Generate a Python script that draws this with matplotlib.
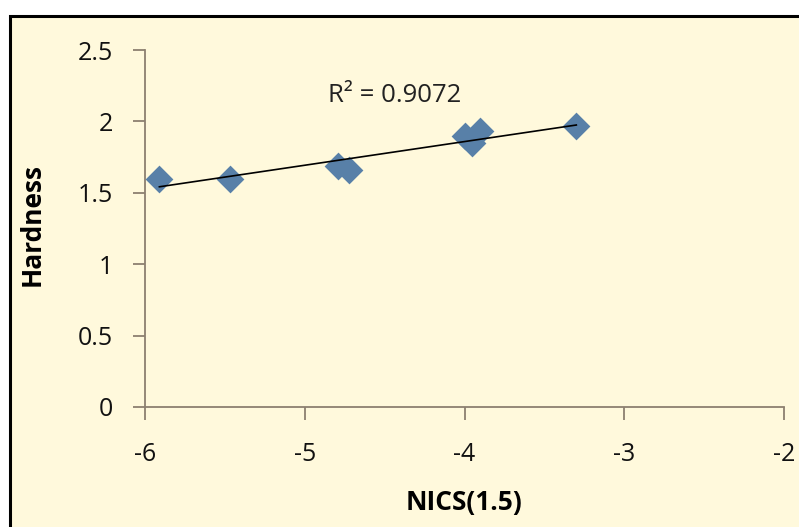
import numpy as np
import matplotlib
matplotlib.use("Agg")
import matplotlib.pyplot as plt
from matplotlib.patches import Rectangle

# data
nics = [-5.91, -5.47, -4.79, -4.72, -4.00, -3.95, -3.90, -3.30]
hardness = [1.60, 1.60, 1.69, 1.66, 1.90, 1.85, 1.93, 1.97]
r2_label = "R² = 0.9072"

bg = "#FFF9DC"
axcol = "#8C8070"

plt.rcParams['font.family'] = ['Open Sans', 'DejaVu Sans']

fig = plt.figure(figsize=(7.99, 5.27), dpi=100)
fig.patch.set_facecolor("white")
# chart area frame (cut off at the right and bottom edge)
frame = Rectangle((10/799, -0.05), 1.0, 1 - 16/527 + 0.05,
                  transform=fig.transFigure, facecolor=bg,
                  edgecolor="black", linewidth=2.2, zorder=-5)
fig.add_artist(frame)

ax = fig.add_axes([145/799, (527-407)/527, (784-145)/799, (407-50)/527])
ax.set_facecolor("none")
ax.set_zorder(2)

ax.scatter(nics, hardness, marker="D", s=200, color="#5880A8", zorder=3,
           linewidths=0)

# linear trendline
k, b = np.polyfit(nics, hardness, 1)
xl = np.array([min(nics), max(nics)])
ax.plot(xl, k*xl + b, color="black", lw=1.2, zorder=4)

ax.text(-4.435, 2.178, r2_label, ha="center", va="center", fontsize=18.5,
        color="#222222")

ax.set_xlim(-6, -2)
ax.set_ylim(0, 2.5)
ax.set_xticks([-6, -5, -4, -3, -2])
ax.set_yticks([0, 0.5, 1, 1.5, 2, 2.5])
ax.set_xticklabels(["-6", "-5", "-4", "-3", "-2"])
ax.set_yticklabels(["0", "0.5", "1", "1.5", "2", "2.5"])

for s in ["top", "right"]:
    ax.spines[s].set_visible(False)
for s in ["left", "bottom"]:
    ax.spines[s].set_color(axcol)
    ax.spines[s].set_linewidth(1.3)
ax.tick_params(axis="both", direction="out", length=9, width=1.3,
               color=axcol, labelsize=18, labelcolor="#111111")
ax.tick_params(axis="x", pad=16)
ax.tick_params(axis="y", pad=14)

ax.set_xlabel("NICS(1.5)", fontsize=19, fontweight="bold")
ax.set_ylabel("Hardness", fontsize=19, fontweight="bold")
ax.xaxis.set_label_coords(0.5, -0.23)
ax.yaxis.set_label_coords(-0.156, 0.51)

fig.savefig("out.png", dpi=100, facecolor=fig.get_facecolor())
